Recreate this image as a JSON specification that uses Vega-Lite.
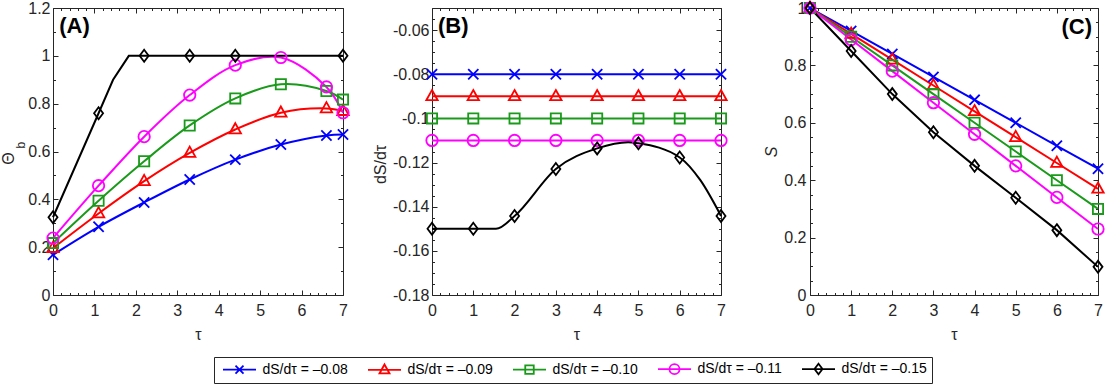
{
  "$schema": "https://vega.github.io/schema/vega-lite/v6.json",
  "background": "white",
  "padding": {"left": -1, "top": -3, "right": 2, "bottom": 3},
  "bounds": "flush",
  "spacing": 89,
  "config": {
    "font": "Liberation Sans",
    "view": {"stroke": "#262626", "strokeWidth": 1},
    "axis": {"domain": false, "grid": false, "labelFont": "Liberation Sans", "labelFontSize": 16, "labelColor": "#262626", "tickColor": "#262626", "tickWidth": 1, "titleFont": "Liberation Sans", "titleFontSize": 16, "titleColor": "#262626", "titleFontWeight": "normal", "labelFlush": false, "labelOverlap": false, "labelBound": false},
    "legend": {"labelFont": "Liberation Sans", "labelFontSize": 14, "labelFontWeight": "normal", "labelColor": "#000000"},
    "text": {"font": "Liberation Sans"}
  },
  "datasets": {
    "A": [
      {"s": "-0.08", "t": 0, "v": 0.168, "m": 1}, {"s": "-0.08", "t": 1.1, "v": 0.285, "m": 1}, {"s": "-0.08", "t": 2.2, "v": 0.387, "m": 1}, {"s": "-0.08", "t": 3.3, "v": 0.483, "m": 1}, {"s": "-0.08", "t": 4.4, "v": 0.566, "m": 1}, {"s": "-0.08", "t": 5.5, "v": 0.629, "m": 1}, {"s": "-0.08", "t": 6.6, "v": 0.667, "m": 1}, {"s": "-0.08", "t": 7, "v": 0.671, "m": 1},
      {"s": "-0.09", "t": 0, "v": 0.196, "m": 1}, {"s": "-0.09", "t": 1.1, "v": 0.341, "m": 1}, {"s": "-0.09", "t": 2.2, "v": 0.476, "m": 1}, {"s": "-0.09", "t": 3.3, "v": 0.594, "m": 1}, {"s": "-0.09", "t": 4.4, "v": 0.692, "m": 1}, {"s": "-0.09", "t": 5.5, "v": 0.762, "m": 1}, {"s": "-0.09", "t": 6.6, "v": 0.78, "m": 1}, {"s": "-0.09", "t": 7, "v": 0.769, "m": 1},
      {"s": "-0.10", "t": 0, "v": 0.217, "m": 1}, {"s": "-0.10", "t": 1.1, "v": 0.394, "m": 1}, {"s": "-0.10", "t": 2.2, "v": 0.559, "m": 1}, {"s": "-0.10", "t": 3.3, "v": 0.709, "m": 1}, {"s": "-0.10", "t": 4.4, "v": 0.822, "m": 1}, {"s": "-0.10", "t": 5.5, "v": 0.881, "m": 1}, {"s": "-0.10", "t": 6.6, "v": 0.853, "m": 1}, {"s": "-0.10", "t": 7, "v": 0.817, "m": 1},
      {"s": "-0.11", "t": 0, "v": 0.238, "m": 1}, {"s": "-0.11", "t": 1.1, "v": 0.457, "m": 1}, {"s": "-0.11", "t": 2.2, "v": 0.662, "m": 1}, {"s": "-0.11", "t": 3.3, "v": 0.836, "m": 1}, {"s": "-0.11", "t": 4.4, "v": 0.961, "m": 1}, {"s": "-0.11", "t": 5.5, "v": 0.993, "m": 1}, {"s": "-0.11", "t": 6.6, "v": 0.87, "m": 1}, {"s": "-0.11", "t": 7, "v": 0.762, "m": 1},
      {"s": "-0.15", "t": 0, "v": 0.325, "m": 1}, {"s": "-0.15", "t": 1.1, "v": 0.76, "m": 1}, {"s": "-0.15", "t": 1.45, "v": 0.9, "m": 0}, {"s": "-0.15", "t": 1.83, "v": 1.0, "m": 0}, {"s": "-0.15", "t": 2.2, "v": 1.0, "m": 1}, {"s": "-0.15", "t": 3.3, "v": 1.0, "m": 1}, {"s": "-0.15", "t": 4.4, "v": 1.0, "m": 1}, {"s": "-0.15", "t": 5.5, "v": 1.0, "m": 0}, {"s": "-0.15", "t": 6.6, "v": 1.0, "m": 0}, {"s": "-0.15", "t": 7, "v": 1.0, "m": 1}
    ],
    "B": [
      {"s": "-0.08", "t": 0, "v": -0.08, "m": 1}, {"s": "-0.08", "t": 1, "v": -0.08, "m": 1}, {"s": "-0.08", "t": 2, "v": -0.08, "m": 1}, {"s": "-0.08", "t": 3, "v": -0.08, "m": 1}, {"s": "-0.08", "t": 4, "v": -0.08, "m": 1}, {"s": "-0.08", "t": 5, "v": -0.08, "m": 1}, {"s": "-0.08", "t": 6, "v": -0.08, "m": 1}, {"s": "-0.08", "t": 7, "v": -0.08, "m": 1},
      {"s": "-0.09", "t": 0, "v": -0.09, "m": 1}, {"s": "-0.09", "t": 1, "v": -0.09, "m": 1}, {"s": "-0.09", "t": 2, "v": -0.09, "m": 1}, {"s": "-0.09", "t": 3, "v": -0.09, "m": 1}, {"s": "-0.09", "t": 4, "v": -0.09, "m": 1}, {"s": "-0.09", "t": 5, "v": -0.09, "m": 1}, {"s": "-0.09", "t": 6, "v": -0.09, "m": 1}, {"s": "-0.09", "t": 7, "v": -0.09, "m": 1},
      {"s": "-0.10", "t": 0, "v": -0.1, "m": 1}, {"s": "-0.10", "t": 1, "v": -0.1, "m": 1}, {"s": "-0.10", "t": 2, "v": -0.1, "m": 1}, {"s": "-0.10", "t": 3, "v": -0.1, "m": 1}, {"s": "-0.10", "t": 4, "v": -0.1, "m": 1}, {"s": "-0.10", "t": 5, "v": -0.1, "m": 1}, {"s": "-0.10", "t": 6, "v": -0.1, "m": 1}, {"s": "-0.10", "t": 7, "v": -0.1, "m": 1},
      {"s": "-0.11", "t": 0, "v": -0.11, "m": 1}, {"s": "-0.11", "t": 1, "v": -0.11, "m": 1}, {"s": "-0.11", "t": 2, "v": -0.11, "m": 1}, {"s": "-0.11", "t": 3, "v": -0.11, "m": 1}, {"s": "-0.11", "t": 4, "v": -0.11, "m": 1}, {"s": "-0.11", "t": 5, "v": -0.11, "m": 1}, {"s": "-0.11", "t": 6, "v": -0.11, "m": 1}, {"s": "-0.11", "t": 7, "v": -0.11, "m": 1},
      {"s": "-0.15", "t": 0, "v": -0.15, "m": 1}, {"s": "-0.15", "t": 1, "v": -0.15, "m": 1}, {"s": "-0.15", "t": 1.55, "v": -0.15, "m": 0}, {"s": "-0.15", "t": 2, "v": -0.1442, "m": 1}, {"s": "-0.15", "t": 3, "v": -0.1229, "m": 1}, {"s": "-0.15", "t": 4, "v": -0.1136, "m": 1}, {"s": "-0.15", "t": 4.75, "v": -0.1108, "m": 0}, {"s": "-0.15", "t": 5, "v": -0.1113, "m": 1}, {"s": "-0.15", "t": 6, "v": -0.1177, "m": 1}, {"s": "-0.15", "t": 6.5, "v": -0.128, "m": 0}, {"s": "-0.15", "t": 7, "v": -0.1442, "m": 1}
    ],
    "C": [
      {"s": "-0.08", "t": 0, "v": 1, "m": 1}, {"s": "-0.08", "t": 1, "v": 0.92, "m": 1}, {"s": "-0.08", "t": 2, "v": 0.84, "m": 1}, {"s": "-0.08", "t": 3, "v": 0.76, "m": 1}, {"s": "-0.08", "t": 4, "v": 0.68, "m": 1}, {"s": "-0.08", "t": 5, "v": 0.6, "m": 1}, {"s": "-0.08", "t": 6, "v": 0.52, "m": 1}, {"s": "-0.08", "t": 7, "v": 0.44, "m": 1},
      {"s": "-0.09", "t": 0, "v": 1, "m": 1}, {"s": "-0.09", "t": 1, "v": 0.91, "m": 1}, {"s": "-0.09", "t": 2, "v": 0.82, "m": 1}, {"s": "-0.09", "t": 3, "v": 0.73, "m": 1}, {"s": "-0.09", "t": 4, "v": 0.64, "m": 1}, {"s": "-0.09", "t": 5, "v": 0.55, "m": 1}, {"s": "-0.09", "t": 6, "v": 0.46, "m": 1}, {"s": "-0.09", "t": 7, "v": 0.37, "m": 1},
      {"s": "-0.10", "t": 0, "v": 1, "m": 1}, {"s": "-0.10", "t": 1, "v": 0.9, "m": 1}, {"s": "-0.10", "t": 2, "v": 0.8, "m": 1}, {"s": "-0.10", "t": 3, "v": 0.7, "m": 1}, {"s": "-0.10", "t": 4, "v": 0.6, "m": 1}, {"s": "-0.10", "t": 5, "v": 0.5, "m": 1}, {"s": "-0.10", "t": 6, "v": 0.4, "m": 1}, {"s": "-0.10", "t": 7, "v": 0.3, "m": 1},
      {"s": "-0.11", "t": 0, "v": 1, "m": 1}, {"s": "-0.11", "t": 1, "v": 0.89, "m": 1}, {"s": "-0.11", "t": 2, "v": 0.78, "m": 1}, {"s": "-0.11", "t": 3, "v": 0.67, "m": 1}, {"s": "-0.11", "t": 4, "v": 0.56, "m": 1}, {"s": "-0.11", "t": 5, "v": 0.45, "m": 1}, {"s": "-0.11", "t": 6, "v": 0.34, "m": 1}, {"s": "-0.11", "t": 7, "v": 0.23, "m": 1},
      {"s": "-0.15", "t": 0, "v": 1, "m": 1}, {"s": "-0.15", "t": 1, "v": 0.85, "m": 1}, {"s": "-0.15", "t": 2, "v": 0.7, "m": 1}, {"s": "-0.15", "t": 3, "v": 0.567, "m": 1}, {"s": "-0.15", "t": 4, "v": 0.45, "m": 1}, {"s": "-0.15", "t": 5, "v": 0.339, "m": 1}, {"s": "-0.15", "t": 6, "v": 0.226, "m": 1}, {"s": "-0.15", "t": 7, "v": 0.098, "m": 1}
    ]
  },
  "hconcat": [
    {
      "width": 290, "height": 287,
      "data": {"name": "A"},
      "resolve": {"axis": {"x": "independent", "y": "independent"}},
      "layer": [
        {
          "transform": [{"filter": "datum.s != '-0.15'"}],
          "mark": {"type": "line", "interpolate": "catmull-rom", "strokeWidth": 2},
          "encoding": {
            "x": {"field": "t", "type": "quantitative", "scale": {"domain": [0, 7], "nice": false, "zero": false},
              "axis": {"orient": "bottom", "values": [0,0.2,0.4,0.6,0.8,1,1.2,1.4,1.6,1.8,2,2.2,2.4,2.6,2.8,3,3.2,3.4,3.6,3.8,4,4.2,4.4,4.6,4.8,5,5.2,5.4,5.6,5.8,6,6.2,6.4,6.6,6.8,7],
                "tickSize": {"condition": {"test": "abs(datum.value-round(datum.value))<1e-6", "value": -5}, "value": -2.5},
                "labelExpr": "abs(datum.value-round(datum.value))<1e-6 ? format(datum.value,'d') : ''",
                "labelPadding": 12, "title": "τ", "titleY": 39, "titleBaseline": "middle"}},
            "y": {"field": "v", "type": "quantitative", "scale": {"domain": [0, 1.2], "nice": false, "zero": false},
              "axis": {"orient": "left", "values": [0,0.1,0.2,0.3,0.4,0.5,0.6,0.7,0.8,0.9,1,1.1,1.2],
                "tickSize": {"condition": {"test": "abs(datum.value*5-round(datum.value*5))<1e-6", "value": -5}, "value": -2.5},
                "labelExpr": "abs(datum.value*5-round(datum.value*5))<1e-6 ? format(datum.value,'~g') : ''",
                "labelPadding": 8, "title": "Θ", "titleX": -45, "titleY": 150, "titleAngle": 270, "titleAlign": "center", "titleBaseline": "middle"}},
            "color": {"field": "s", "type": "nominal", "scale": {"domain": ["-0.08", "-0.09", "-0.10", "-0.11", "-0.15"], "range": ["#0000ff", "#ff0000", "#1a9a1a", "#ff00ff", "#000000"]}}
          }
        },
        {
          "transform": [{"filter": "datum.s == '-0.15'"}],
          "mark": {"type": "line", "strokeWidth": 2},
          "encoding": {
            "x": {"field": "t", "type": "quantitative", "scale": {"domain": [0, 7], "nice": false, "zero": false}, "axis": null},
            "y": {"field": "v", "type": "quantitative", "scale": {"domain": [0, 1.2], "nice": false, "zero": false}, "axis": null},
            "color": {"field": "s", "type": "nominal", "scale": {"domain": ["-0.08", "-0.09", "-0.10", "-0.11", "-0.15"], "range": ["#0000ff", "#ff0000", "#1a9a1a", "#ff00ff", "#000000"]}}
          }
        },
        {
          "transform": [{"filter": "datum.m == 1"}],
          "mark": {"type": "point", "filled": false, "size": 144, "strokeWidth": 1.8, "opacity": 1},
          "encoding": {
            "x": {"field": "t", "type": "quantitative", "scale": {"domain": [0, 7], "nice": false, "zero": false},
              "axis": {"orient": "top", "values": [0,0.2,0.4,0.6,0.8,1,1.2,1.4,1.6,1.8,2,2.2,2.4,2.6,2.8,3,3.2,3.4,3.6,3.8,4,4.2,4.4,4.6,4.8,5,5.2,5.4,5.6,5.8,6,6.2,6.4,6.6,6.8,7],
                "tickSize": {"condition": {"test": "abs(datum.value-round(datum.value))<1e-6", "value": -5}, "value": -2.5}, "labels": false, "title": null}},
            "y": {"field": "v", "type": "quantitative", "scale": {"domain": [0, 1.2], "nice": false, "zero": false},
              "axis": {"orient": "right", "values": [0,0.1,0.2,0.3,0.4,0.5,0.6,0.7,0.8,0.9,1,1.1,1.2],
                "tickSize": {"condition": {"test": "abs(datum.value*5-round(datum.value*5))<1e-6", "value": -5}, "value": -2.5}, "labels": false, "title": null}},
            "color": {"field": "s", "type": "nominal", "scale": {"domain": ["-0.08", "-0.09", "-0.10", "-0.11", "-0.15"], "range": ["#0000ff", "#ff0000", "#1a9a1a", "#ff00ff", "#000000"]}},
            "shape": {"condition": [
              {"test": "datum.s == '-0.08'", "value": "M-0.85,-0.85L0.85,0.85M-0.85,0.85L0.85,-0.85"},
              {"test": "datum.s == '-0.09'", "value": "M0,-1.05L0.95,0.65L-0.95,0.65Z"},
              {"test": "datum.s == '-0.10'", "value": "M-0.85,-0.85L0.85,-0.85L0.85,0.85L-0.85,0.85Z"},
              {"test": "datum.s == '-0.11'", "value": "M0.95,0A0.95,0.95,0,1,1,-0.95,0A0.95,0.95,0,1,1,0.95,0Z"}],
              "value": "M0,-1L0.75,0L0,1L-0.75,0Z"}
          }
        },
        {
          "transform": [{"filter": "datum.m == 99"}],
          "mark": {"type": "point", "filled": false, "strokeWidth": 1.8, "opacity": 1},
          "encoding": {
            "x": {"field": "t", "type": "quantitative", "scale": {"domain": [0, 7], "nice": false, "zero": false}, "axis": null},
            "y": {"field": "v", "type": "quantitative", "scale": {"domain": [0, 1.2], "nice": false, "zero": false}, "axis": null},
            "color": {"field": "s", "type": "nominal", "scale": {"domain": ["-0.08", "-0.09", "-0.10", "-0.11", "-0.15"], "range": ["#0000ff", "#ff0000", "#1a9a1a", "#ff00ff", "#000000"]},
              "legend": {"orient": "none", "legendX": 161, "legendY": 349, "direction": "horizontal", "title": null,
                "labelExpr": "'dS/dτ = –' + slice(datum.label, 1)",
                "labelFont": "Liberation Sans", "labelFontSize": 14, "labelFontWeight": "normal", "labelColor": "#000000",
                "symbolOffset": 13.5, "labelOffset": 16, "columnPadding": 16, "padding": 5,
                "strokeColor": "#262626", "fillColor": "white", "symbolStrokeWidth": 1.8, "symbolSize": 100, "symbolFillColor": "transparent", "symbolOpacity": 1}},
            "shape": {"field": "s", "type": "nominal", "scale": {"domain": ["-0.08", "-0.09", "-0.10", "-0.11", "-0.15"], "range": ["M-3.3,0L3.3,0M-0.8,-0.8L0.8,0.8M-0.8,0.8L0.8,-0.8", "M-3.3,0L3.3,0M0,-1.1L1,0.7L-1,0.7Z", "M-3.3,0L3.3,0M-0.85,-0.85L0.85,-0.85L0.85,0.85L-0.85,0.85Z", "M-3.3,0L3.3,0M1,0A1,1,0,1,1,-1,0A1,1,0,1,1,1,0Z", "M-3.3,0L3.3,0M0,-1.05L0.8,0L0,1.05L-0.8,0Z"]},
              "legend": {"orient": "none", "legendX": 161, "legendY": 349, "direction": "horizontal", "title": null,
                "labelExpr": "'dS/dτ = –' + slice(datum.label, 1)",
                "labelFont": "Liberation Sans", "labelFontSize": 14, "labelFontWeight": "normal", "labelColor": "#000000",
                "symbolOffset": 13.5, "labelOffset": 16, "columnPadding": 16, "padding": 5,
                "strokeColor": "#262626", "fillColor": "white", "symbolStrokeWidth": 1.8, "symbolSize": 100, "symbolFillColor": "transparent", "symbolOpacity": 1}}
          }
        },
        {
          "data": {"values": [{}]},
          "mark": {"type": "text", "text": "(A)", "fontSize": 22, "fontWeight": "bold", "align": "left", "baseline": "middle", "color": "#000000"},
          "encoding": {
            "x": {"datum": 0.15, "type": "quantitative", "scale": {"domain": [0, 7], "nice": false, "zero": false}, "axis": null},
            "y": {"datum": 1.125, "type": "quantitative", "scale": {"domain": [0, 1.2], "nice": false, "zero": false}, "axis": null}
          }
        },
        {
          "data": {"values": [{}]},
          "mark": {"type": "text", "text": "b", "fontSize": 12, "angle": 270, "align": "center", "baseline": "middle", "color": "#262626"},
          "encoding": {
            "x": {"datum": -0.78, "type": "quantitative", "scale": {"domain": [0, 7], "nice": false, "zero": false}, "axis": null},
            "y": {"datum": 0.627, "type": "quantitative", "scale": {"domain": [0, 1.2], "nice": false, "zero": false}, "axis": null}
          }
        }
      ]
    },
    {
      "width": 289, "height": 287,
      "data": {"name": "B"},
      "resolve": {"axis": {"x": "independent", "y": "independent"}},
      "layer": [
        {
          "transform": [{"filter": "datum.s != '-0.15'"}],
          "mark": {"type": "line", "strokeWidth": 2},
          "encoding": {
            "x": {"field": "t", "type": "quantitative", "scale": {"domain": [0, 7], "nice": false, "zero": false},
              "axis": {"orient": "bottom", "values": [0,0.2,0.4,0.6,0.8,1,1.2,1.4,1.6,1.8,2,2.2,2.4,2.6,2.8,3,3.2,3.4,3.6,3.8,4,4.2,4.4,4.6,4.8,5,5.2,5.4,5.6,5.8,6,6.2,6.4,6.6,6.8,7],
                "tickSize": {"condition": {"test": "abs(datum.value-round(datum.value))<1e-6", "value": -5}, "value": -2.5},
                "labelExpr": "abs(datum.value-round(datum.value))<1e-6 ? format(datum.value,'d') : ''",
                "labelPadding": 12, "title": "τ", "titleY": 39, "titleBaseline": "middle"}},
            "y": {"field": "v", "type": "quantitative", "scale": {"domain": [-0.18, -0.05], "nice": false, "zero": false},
              "axis": {"orient": "left", "values": [-0.18,-0.175,-0.17,-0.165,-0.16,-0.155,-0.15,-0.145,-0.14,-0.135,-0.13,-0.125,-0.12,-0.115,-0.11,-0.105,-0.1,-0.095,-0.09,-0.085,-0.08,-0.075,-0.07,-0.065,-0.06,-0.055,-0.05],
                "tickSize": {"condition": {"test": "abs(datum.value*50-round(datum.value*50))<1e-6", "value": -5}, "value": -2.5},
                "labelExpr": "abs(datum.value*50-round(datum.value*50))<1e-6 ? replace(format(datum.value,'~g'),'−','-') : ''",
                "labelPadding": 8, "title": "dS/dτ", "titleX": -52, "titleY": 156, "titleAngle": 270, "titleAlign": "center", "titleBaseline": "middle"}},
            "color": {"field": "s", "type": "nominal", "scale": {"domain": ["-0.08", "-0.09", "-0.10", "-0.11", "-0.15"], "range": ["#0000ff", "#ff0000", "#1a9a1a", "#ff00ff", "#000000"]}}
          }
        },
        {
          "transform": [{"filter": "datum.s == '-0.15'"}],
          "mark": {"type": "line", "interpolate": "monotone", "strokeWidth": 2},
          "encoding": {
            "x": {"field": "t", "type": "quantitative", "scale": {"domain": [0, 7], "nice": false, "zero": false}, "axis": null},
            "y": {"field": "v", "type": "quantitative", "scale": {"domain": [-0.18, -0.05], "nice": false, "zero": false}, "axis": null},
            "color": {"field": "s", "type": "nominal", "scale": {"domain": ["-0.08", "-0.09", "-0.10", "-0.11", "-0.15"], "range": ["#0000ff", "#ff0000", "#1a9a1a", "#ff00ff", "#000000"]}}
          }
        },
        {
          "transform": [{"filter": "datum.m == 1"}],
          "mark": {"type": "point", "filled": false, "size": 144, "strokeWidth": 1.8, "opacity": 1},
          "encoding": {
            "x": {"field": "t", "type": "quantitative", "scale": {"domain": [0, 7], "nice": false, "zero": false},
              "axis": {"orient": "top", "values": [0,0.2,0.4,0.6,0.8,1,1.2,1.4,1.6,1.8,2,2.2,2.4,2.6,2.8,3,3.2,3.4,3.6,3.8,4,4.2,4.4,4.6,4.8,5,5.2,5.4,5.6,5.8,6,6.2,6.4,6.6,6.8,7],
                "tickSize": {"condition": {"test": "abs(datum.value-round(datum.value))<1e-6", "value": -5}, "value": -2.5}, "labels": false, "title": null}},
            "y": {"field": "v", "type": "quantitative", "scale": {"domain": [-0.18, -0.05], "nice": false, "zero": false},
              "axis": {"orient": "right", "values": [-0.18,-0.175,-0.17,-0.165,-0.16,-0.155,-0.15,-0.145,-0.14,-0.135,-0.13,-0.125,-0.12,-0.115,-0.11,-0.105,-0.1,-0.095,-0.09,-0.085,-0.08,-0.075,-0.07,-0.065,-0.06,-0.055,-0.05],
                "tickSize": {"condition": {"test": "abs(datum.value*50-round(datum.value*50))<1e-6", "value": -5}, "value": -2.5}, "labels": false, "title": null}},
            "color": {"field": "s", "type": "nominal", "scale": {"domain": ["-0.08", "-0.09", "-0.10", "-0.11", "-0.15"], "range": ["#0000ff", "#ff0000", "#1a9a1a", "#ff00ff", "#000000"]}},
            "shape": {"condition": [
              {"test": "datum.s == '-0.08'", "value": "M-0.85,-0.85L0.85,0.85M-0.85,0.85L0.85,-0.85"},
              {"test": "datum.s == '-0.09'", "value": "M0,-1.05L0.95,0.65L-0.95,0.65Z"},
              {"test": "datum.s == '-0.10'", "value": "M-0.85,-0.85L0.85,-0.85L0.85,0.85L-0.85,0.85Z"},
              {"test": "datum.s == '-0.11'", "value": "M0.95,0A0.95,0.95,0,1,1,-0.95,0A0.95,0.95,0,1,1,0.95,0Z"}],
              "value": "M0,-1L0.75,0L0,1L-0.75,0Z"}
          }
        },
        {
          "data": {"values": [{}]},
          "mark": {"type": "text", "text": "(B)", "fontSize": 22, "fontWeight": "bold", "align": "left", "baseline": "middle", "color": "#000000"},
          "encoding": {
            "x": {"datum": 0.145, "type": "quantitative", "scale": {"domain": [0, 7], "nice": false, "zero": false}, "axis": null},
            "y": {"datum": -0.0582, "type": "quantitative", "scale": {"domain": [-0.18, -0.05], "nice": false, "zero": false}, "axis": null}
          }
        }
      ]
    },
    {
      "width": 288, "height": 287,
      "data": {"name": "C"},
      "resolve": {"axis": {"x": "independent", "y": "independent"}},
      "layer": [
        {
          "mark": {"type": "line", "strokeWidth": 2},
          "encoding": {
            "x": {"field": "t", "type": "quantitative", "scale": {"domain": [0, 7], "nice": false, "zero": false},
              "axis": {"orient": "bottom", "values": [0,0.2,0.4,0.6,0.8,1,1.2,1.4,1.6,1.8,2,2.2,2.4,2.6,2.8,3,3.2,3.4,3.6,3.8,4,4.2,4.4,4.6,4.8,5,5.2,5.4,5.6,5.8,6,6.2,6.4,6.6,6.8,7],
                "tickSize": {"condition": {"test": "abs(datum.value-round(datum.value))<1e-6", "value": -5}, "value": -2.5},
                "labelExpr": "abs(datum.value-round(datum.value))<1e-6 ? format(datum.value,'d') : ''",
                "labelPadding": 12, "title": "τ", "titleY": 39, "titleBaseline": "middle"}},
            "y": {"field": "v", "type": "quantitative", "scale": {"domain": [0, 1], "nice": false, "zero": false},
              "axis": {"orient": "left", "values": [0,0.05,0.1,0.15,0.2,0.25,0.3,0.35,0.4,0.45,0.5,0.55,0.6,0.65,0.7,0.75,0.8,0.85,0.9,0.95,1],
                "tickSize": {"condition": {"test": "abs(datum.value*5-round(datum.value*5))<1e-6", "value": -5}, "value": -2.5},
                "labelExpr": "abs(datum.value*5-round(datum.value*5))<1e-6 ? format(datum.value,'~g') : ''",
                "labelPadding": 9, "title": "S", "titleFontStyle": "italic", "titleX": -39, "titleY": 143.5, "titleAngle": 270, "titleAlign": "center", "titleBaseline": "middle"}},
            "color": {"field": "s", "type": "nominal", "scale": {"domain": ["-0.08", "-0.09", "-0.10", "-0.11", "-0.15"], "range": ["#0000ff", "#ff0000", "#1a9a1a", "#ff00ff", "#000000"]}}
          }
        },
        {
          "mark": {"type": "point", "filled": false, "size": 144, "strokeWidth": 1.8, "opacity": 1},
          "encoding": {
            "x": {"field": "t", "type": "quantitative", "scale": {"domain": [0, 7], "nice": false, "zero": false},
              "axis": {"orient": "top", "values": [0,0.2,0.4,0.6,0.8,1,1.2,1.4,1.6,1.8,2,2.2,2.4,2.6,2.8,3,3.2,3.4,3.6,3.8,4,4.2,4.4,4.6,4.8,5,5.2,5.4,5.6,5.8,6,6.2,6.4,6.6,6.8,7],
                "tickSize": {"condition": {"test": "abs(datum.value-round(datum.value))<1e-6", "value": -5}, "value": -2.5}, "labels": false, "title": null}},
            "y": {"field": "v", "type": "quantitative", "scale": {"domain": [0, 1], "nice": false, "zero": false},
              "axis": {"orient": "right", "values": [0,0.05,0.1,0.15,0.2,0.25,0.3,0.35,0.4,0.45,0.5,0.55,0.6,0.65,0.7,0.75,0.8,0.85,0.9,0.95,1],
                "tickSize": {"condition": {"test": "abs(datum.value*5-round(datum.value*5))<1e-6", "value": -5}, "value": -2.5}, "labels": false, "title": null}},
            "color": {"field": "s", "type": "nominal", "scale": {"domain": ["-0.08", "-0.09", "-0.10", "-0.11", "-0.15"], "range": ["#0000ff", "#ff0000", "#1a9a1a", "#ff00ff", "#000000"]}},
            "shape": {"condition": [
              {"test": "datum.s == '-0.08'", "value": "M-0.85,-0.85L0.85,0.85M-0.85,0.85L0.85,-0.85"},
              {"test": "datum.s == '-0.09'", "value": "M0,-1.05L0.95,0.65L-0.95,0.65Z"},
              {"test": "datum.s == '-0.10'", "value": "M-0.85,-0.85L0.85,-0.85L0.85,0.85L-0.85,0.85Z"},
              {"test": "datum.s == '-0.11'", "value": "M0.95,0A0.95,0.95,0,1,1,-0.95,0A0.95,0.95,0,1,1,0.95,0Z"}],
              "value": "M0,-1L0.75,0L0,1L-0.75,0Z"}
          }
        },
        {
          "data": {"values": [{}]},
          "mark": {"type": "text", "text": "(C)", "fontSize": 22, "fontWeight": "bold", "align": "right", "baseline": "middle", "color": "#000000"},
          "encoding": {
            "x": {"datum": 6.854, "type": "quantitative", "scale": {"domain": [0, 7], "nice": false, "zero": false}, "axis": null},
            "y": {"datum": 0.934, "type": "quantitative", "scale": {"domain": [0, 1], "nice": false, "zero": false}, "axis": null}
          }
        }
      ]
    }
  ]
}
